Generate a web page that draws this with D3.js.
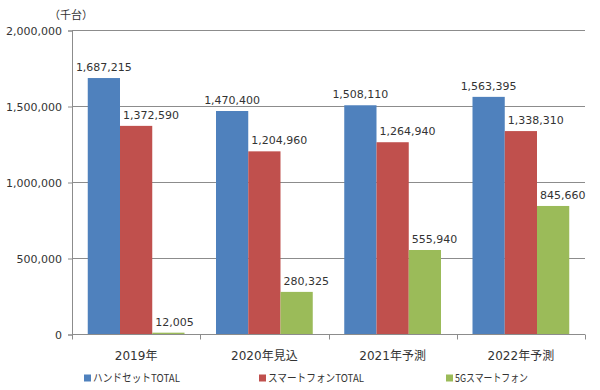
<!DOCTYPE html>
<html>
<head>
<meta charset="utf-8">
<script src="https://cdn.jsdelivr.net/npm/d3@7"></script>
<style>
  body { margin: 0; background: #fff; }
  text { font-family: 'DejaVu Sans', 'Noto Sans CJK JP', sans-serif; fill: #333; }
  .cjk { font-family: 'Noto Sans CJK JP', sans-serif; }
</style>
</head>
<body>
<svg id="chart"></svg>
<script>
const categories = ['2019年', '2020年見込', '2021年予測', '2022年予測'];
const seriesNames = ['ハンドセットTOTAL', 'スマートフォンTOTAL', '5Gスマートフォン'];
const handset = [1687215, 1470400, 1508110, 1563395];
const smartphone = [1372590, 1204960, 1264940, 1338310];
const fiveG = [12005, 280325, 555940, 845660];
const yTicks = [0, 500000, 1000000, 1500000, 2000000];
const unitLabel = '（千台）';

const w = 600, h = 390;
const margin = { left: 72, right: 15, top: 30.5, bottom: 55.5 };
const colors = ['#4f81bd', '#c0504d', '#9bbb59'];
const legendX = [84, 259, 446], legendLen = [87, 96, 73];

const series = [handset, smartphone, fiveG];

const chart = d3.select('#chart')
    .attr('width', w)
    .attr('height', h);

const xScale = d3.scaleBand()
    .domain(categories)
    .range([margin.left, w - margin.right])
    .padding(0);

const inner = 15.75;
const xSub = d3.scaleBand()
    .domain(d3.range(seriesNames.length))
    .range([inner, xScale.bandwidth() - inner]);

const yScale = d3.scaleLinear()
    .domain([0, 2000000])
    .range([h - margin.bottom, margin.top]);

// gridlines
chart.append('g')
    .selectAll('line')
    .data(yTicks.filter(d => d > 0))
    .enter()
    .append('line')
    .attr('x1', margin.left)
    .attr('x2', w - margin.right)
    .attr('y1', d => yScale(d))
    .attr('y2', d => yScale(d))
    .attr('stroke', '#8c8c8c')
    .attr('stroke-width', 1);

// bars + labels (first series labels centred, the others sit a bit to the right like the original)
series.forEach((vals, si) => {
  chart.append('g')
    .selectAll('rect')
    .data(vals)
    .enter()
    .append('rect')
    .attr('x', (d, i) => xScale(categories[i]) + xSub(si))
    .attr('width', xSub.bandwidth())
    .attr('y', d => yScale(d))
    .attr('height', d => yScale(0) - yScale(d))
    .style('fill', colors[si]);

  chart.append('g')
    .selectAll('text')
    .data(vals)
    .enter()
    .append('text')
    .attr('x', (d, i) => si == 0
        ? xScale(categories[i]) + xSub(si) + xSub.bandwidth() / 2
        : xScale(categories[i]) + xSub(si) + 3)
    .attr('y', d => yScale(d) - 7)
    .attr('text-anchor', si == 0 ? 'middle' : 'start')
    .attr('font-size', '11px')
    .text(d => d3.format(',')(d));
});

// y axis
const yAxis = chart.append('g')
    .attr('transform', `translate(${margin.left}, 0)`)
    .call(d3.axisLeft(yScale).tickValues(yTicks).tickSize(4).tickPadding(6).tickFormat(d3.format(',')));
yAxis.selectAll('path, line').attr('stroke', '#8c8c8c');
yAxis.selectAll('text').attr('font-size', '11px').attr('font-family', null).style('fill', '#333');

// x axis
const x0 = yScale(0);
const xAxis = chart.append('g');
xAxis.append('line')
    .attr('x1', margin.left).attr('x2', w - margin.right)
    .attr('y1', x0).attr('y2', x0)
    .attr('stroke', '#8c8c8c');
xAxis.selectAll('.tick')
    .data(categories.map(c => xScale(c)).concat([xScale.range()[1]]))
    .enter()
    .append('line')
    .attr('x1', d => Math.round(d) + 0.5).attr('x2', d => Math.round(d) + 0.5)
    .attr('y1', x0).attr('y2', x0 + 5)
    .attr('stroke', '#8c8c8c');
xAxis.selectAll('.cat')
    .data(categories)
    .enter()
    .append('text')
    .attr('x', d => xScale(d) + xScale.bandwidth() / 2)
    .attr('y', x0 + 25)
    .attr('text-anchor', 'middle')
    .attr('font-size', '12px')
    .text(d => d);

// unit label
chart.append('text')
    .attr('class', 'cjk')
    .attr('x', 49)
    .attr('y', 19)
    .attr('font-size', '11px')
    .text(unitLabel);

// legend
const legend = chart.append('g');
seriesNames.forEach((name, i) => {
  legend.append('rect')
    .attr('x', legendX[i])
    .attr('y', 374.5)
    .attr('width', 7)
    .attr('height', 7)
    .style('fill', colors[i]);
  legend.append('text')
    .attr('class', 'cjk')
    .attr('x', legendX[i] + 9)
    .attr('y', 382)
    .attr('font-size', '11px')
    .attr('textLength', legendLen[i])
    .attr('lengthAdjust', 'spacingAndGlyphs')
    .text(name);
});
</script>
</body>
</html>
